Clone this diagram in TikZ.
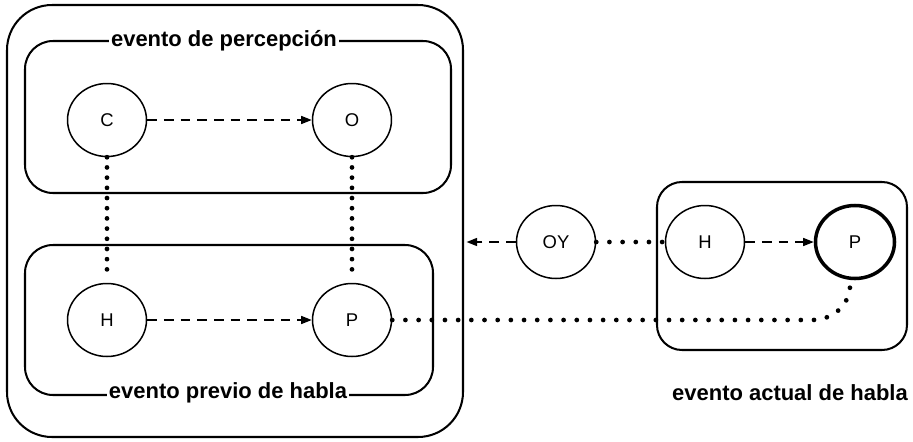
\documentclass[tikz,border=0pt]{standalone}
\usepackage{fontspec}
\setmainfont{Liberation Sans}
\usetikzlibrary{arrows.meta, positioning, shapes.geometric}

\begin{document}
\begin{tikzpicture}[
        event/.style={ellipse, draw, line width=0.85pt, minimum width=1.58cm, minimum height=1.46cm, inner sep=0pt, font=\fontsize{10.5}{12}\selectfont},
        frame/.style={rectangle, draw, line width=1.15pt, rounded corners=#1, inner sep=0pt, outer sep=0pt},
        frame/.default=0.56cm,
        tag/.style={fill=white, inner sep=1pt, font=\fontsize{12.5}{14}\selectfont\bfseries},
        line/.style={draw, line width=0.9pt, dash pattern=on 5.5pt off 4pt, -{Triangle[length=6pt, width=4.5pt]}},
        dotline/.style={draw, line width=2.7pt, line cap=round, dash pattern=on 0pt off #1},
        dotline/.default=7.5pt
    ]
        \useasboundingbox (0,0) rectangle (18.26,8.82);

        % marcos
        \node [frame=0.9cm, minimum width=9.12cm, minimum height=8.64cm] (prev) at (4.70,4.40) {};
        \node [frame, minimum width=8.52cm, minimum height=3.04cm] (perc) at (4.76,6.48) {};
        \node [frame, minimum width=8.16cm, minimum height=3.00cm] (habla) at (4.58,2.42) {};
        \node [frame=0.5cm, minimum width=5.00cm, minimum height=3.36cm] (actual) at (15.64,3.50) {};

        \node [tag] (tperc) at (4.48,8.00) {evento de percepción};
        \node [tag] (thabla) at (4.56,0.96) {evento previo de habla};
        \node [font=\fontsize{12.5}{14}\selectfont\bfseries] (tactual) at (15.80,0.96) {evento actual de habla};

        % nodos
        \node [event] (C) at (2.14,6.42) {C};
        \node [event] (O) at (7.04,6.42) {O};
        \node [event] (H) at (2.14,2.42) {H};
        \node [event] (P) at (7.04,2.42) {P};
        \node [event] (OY) at (11.12,3.98) {OY};
        \node [event] (H2) at (14.10,3.98) {H};
        \node [event, line width=2pt] (P2) at (17.10,3.98) {P};
        \coordinate (bend) at (16.24,2.42);

        \path [line] (C) -- (O);
        \path [line] (H) -- (P);
        \path [line] (H2) -- (P2);
        \path [line] (OY.west) -- ([xshift=2pt]OY.west -| prev.east);

        \path [dotline=5.8pt] (C.south) -- ([yshift=4pt]H.north);
        \path [dotline=5.8pt] (O.south) -- ([yshift=4pt]P.north);
        \path [dotline] (OY.east) -- (H2.west);
        \path [dotline] (P.east) -- (bend) to[out=0, in=-95] ([xshift=-0.1cm, yshift=-4pt]P2.south);
    \end{tikzpicture}
\end{document}
